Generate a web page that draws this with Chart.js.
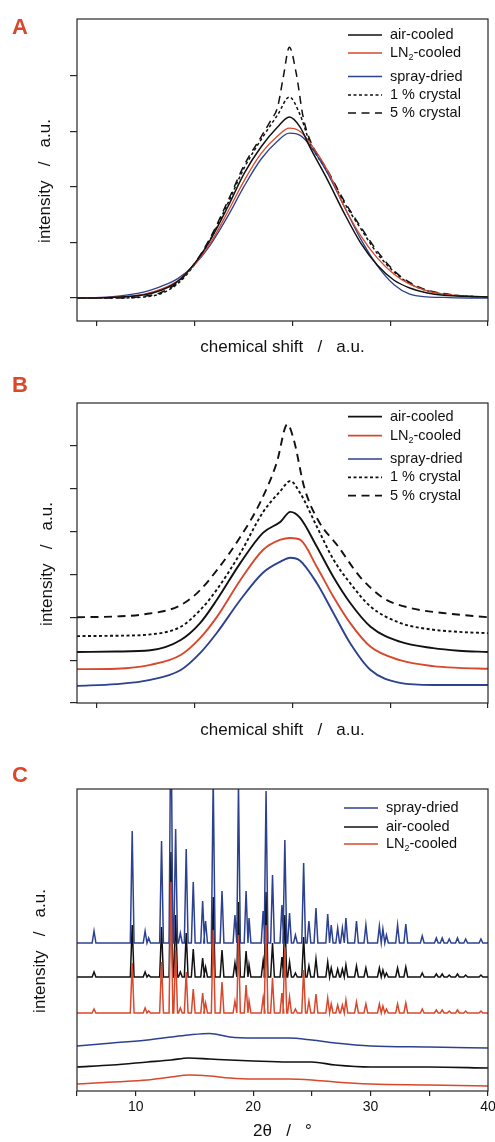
<!DOCTYPE html>
<html>
<head>
<meta charset="utf-8">
<title>Amorphous samples: NMR line shapes and powder patterns</title>
<script src="https://cdn.jsdelivr.net/npm/chart.js@4.4.1/dist/chart.umd.min.js"></script>
<style>
  html, body { margin: 0; padding: 0; background: #fff; }
  body { width: 495px; height: 1142px; position: relative; overflow: hidden; }
  canvas { position: absolute; left: 0; }
</style>
</head>
<body>
<canvas id="panelA" width="495" height="370" style="top:0"></canvas>
<canvas id="panelB" width="495" height="380" style="top:370px"></canvas>
<canvas id="panelC" width="495" height="392" style="top:750px"></canvas>
<script>
// ---- panel A: normalised line shapes (chemical shift in arbitrary units) ----
const aShift = [-0.2, 0.14, 0.49, 0.66, 0.83, 1.0, 1.16, 1.34, 1.51, 1.68, 1.85, 1.97, 2.08, 2.18, 2.36, 2.53, 2.7, 2.87, 3.04, 3.2, 3.38, 3.55, 3.8, 4.0];
const aAir   = [0, 0.01, 0.06, 0.14, 0.3, 0.62, 1.04, 1.64, 2.25, 2.72, 3.08, 3.26, 3.08, 2.72, 2.13, 1.53, 0.99, 0.59, 0.32, 0.18, 0.09, 0.05, 0.03, 0.02];
const aLN2   = [0, 0.01, 0.07, 0.16, 0.31, 0.6, 0.98, 1.55, 2.12, 2.6, 2.92, 3.06, 3.0, 2.8, 2.3, 1.65, 1.12, 0.72, 0.43, 0.25, 0.13, 0.07, 0.03, 0.02];
const aSpray = [0, 0.02, 0.11, 0.21, 0.35, 0.6, 0.95, 1.47, 2.02, 2.5, 2.83, 2.97, 2.93, 2.75, 2.25, 1.65, 1.06, 0.58, 0.24, 0.07, 0.02, 0.01, 0, 0];
const aCryst1 = [0, 0, 0.02, 0.08, 0.26, 0.6, 1.05, 1.7, 2.35, 2.85, 3.3, 3.62, 3.3, 2.8, 2.27, 1.72, 1.25, 0.8, 0.47, 0.26, 0.13, 0.07, 0.03, 0.02];
const aShift5 = [-0.2, 0.14, 0.49, 0.66, 0.83, 1.0, 1.16, 1.34, 1.51, 1.68, 1.78, 1.85, 1.91, 1.97, 2.04, 2.11, 2.18, 2.36, 2.53, 2.7, 2.87, 3.04, 3.2, 3.38, 3.55, 3.8, 4.0];
const aCryst5 = [0, 0, 0.03, 0.1, 0.28, 0.62, 1.08, 1.74, 2.4, 2.9, 3.2, 3.44, 4.0, 4.52, 4.05, 3.27, 2.85, 2.3, 1.75, 1.28, 0.84, 0.49, 0.28, 0.14, 0.08, 0.03, 0.02];
const aTicksX = [0, 1, 2, 3, 4];
const aTicksY = [0, 1, 2, 3, 4];

// ---- panel B: the same spectra, stacked ----
const bShift = [-0.2, 0.2, 0.55, 0.86, 1.06, 1.23, 1.47, 1.7, 1.88, 1.98, 2.08, 2.25, 2.42, 2.59, 2.8, 3.1, 3.44, 3.7, 4.0];
const bAir   = [1.19, 1.2, 1.23, 1.47, 1.87, 2.41, 3.27, 3.97, 4.23, 4.46, 4.32, 3.65, 2.94, 2.34, 1.78, 1.43, 1.28, 1.22, 1.19];
const bLN2   = [0.79, 0.8, 0.89, 1.12, 1.52, 2.01, 2.87, 3.57, 3.81, 3.85, 3.81, 3.18, 2.48, 1.87, 1.31, 1.0, 0.86, 0.82, 0.8];
const bSpray = [0.4, 0.44, 0.54, 0.77, 1.17, 1.64, 2.41, 3.04, 3.3, 3.39, 3.32, 2.8, 2.1, 1.4, 0.77, 0.47, 0.42, 0.42, 0.42];
const bCryst1 = [1.56, 1.57, 1.6, 1.78, 2.17, 2.65, 3.5, 4.45, 4.95, 5.18, 4.9, 4.12, 3.35, 2.8, 2.25, 1.87, 1.71, 1.66, 1.63];
const bShift5 = [-0.2, 0.2, 0.45, 0.83, 1.03, 1.23, 1.47, 1.67, 1.84, 1.95, 2.02, 2.12, 2.26, 2.47, 2.69, 2.93, 3.2, 3.54, 4.0];
const bCryst5 = [2.0, 2.02, 2.06, 2.25, 2.57, 3.1, 3.88, 4.67, 5.6, 6.5, 6.1, 5.05, 4.28, 3.65, 2.95, 2.45, 2.22, 2.1, 2.0];
const bTicksX = [0, 1, 2, 3, 4];
const bTicksY = [0, 1, 2, 3, 4, 5, 6];

// ---- panel C: powder patterns, 2theta in degrees ----
const cPeakPos = [6.45, 9.7, 10.8, 11.1, 12.2, 13.0, 13.4, 13.8, 14.3, 14.9, 15.7, 15.95, 16.6, 17.35, 18.45, 18.75, 19.4, 19.65, 20.85, 21.1, 21.65, 22.45, 22.7, 23.1, 23.6, 24.3, 24.75, 25.35, 26.35, 26.65, 27.2, 27.6, 27.9, 28.8, 29.6, 30.75, 31.05, 31.35, 32.3, 33.0, 34.4, 35.6, 36.1, 36.7, 37.4, 38.1, 39.4];
const cSprayPeaks = [12, 112, 12, 5, 102, 250, 114, 10, 94, 61, 42, 22, 165, 52, 28, 160, 52, 25, 32, 152, 68, 38, 103, 30, 8, 80, 22, 35, 29, 18, 15, 15, 25, 22, 18, 17, 14, 8, 18, 19, 7, 5, 5, 4, 5, 4, 4];
const cAirPeaks   = [5, 52, 5, 2, 50, 125, 62, 5, 44, 28, 19, 10, 80, 27, 14, 75, 26, 12, 16, 85, 34, 20, 62, 15, 4, 40, 11, 18, 15, 9, 8, 8, 12, 11, 9, 9, 7, 4, 9, 10, 4, 3, 3, 2, 3, 2, 2];
const cLN2Peaks   = [4, 50, 5, 2, 51, 131, 63, 5, 41, 24, 20, 10, 83, 31, 12, 78, 28, 12, 15, 88, 35, 20, 66, 16, 4, 43, 12, 19, 15, 9, 8, 8, 13, 11, 9, 9, 7, 4, 9, 10, 4, 3, 3, 2, 3, 2, 2];
const cSprayBase = 148;
const cAirBase = 114;
const cLN2Base = 78;
const cAmorphAngle = [5, 8, 11, 13, 14.5, 16.3, 18, 20, 23, 25, 27, 30, 35, 40];
const cSprayAmorph = [45, 48, 51, 54, 56, 57.5, 54, 53, 53, 51, 48, 45, 44, 43];
const cAirAmorph   = [24, 26, 29, 31, 33, 32, 31, 30, 29, 29, 26, 24, 24, 23];
const cLN2Amorph   = [7, 9, 11, 14, 16, 15, 13, 12, 12, 11, 9, 7, 6, 5];
const cTicksX = [5, 10, 15, 20, 25, 30, 35, 40];

const FONT = '"Liberation Sans", Arial, Helvetica, sans-serif';
const BLACK = '#111111';
const RED = '#d8482c';
const BLUE = '#2d4191';
const LETTER = '#d9482b';
const PEAK_HALF_WIDTH = 0.16;

Chart.defaults.font.family = FONT;
Chart.defaults.color = BLACK;

function xy(xs, ys) {
    return xs.map((x, i) => ({ x, y: ys[i] }));
}

// narrow reflection on a flat baseline for each listed peak
function peakTrace(base, heights) {
    const pts = [{ x: 5, y: base }];
    cPeakPos.forEach((p, i) => {
        pts.push({ x: p - PEAK_HALF_WIDTH, y: base });
        pts.push({ x: p, y: base + heights[i] });
        pts.push({ x: p + PEAK_HALF_WIDTH, y: base });
    });
    pts.push({ x: 40, y: base });
    return pts;
}

function drawLabel(ctx, text, x, y) {
    // the "2" in LN2 is set as a subscript
    const parts = text.split('\u2082');
    ctx.fillText(parts[0], x, y);
    if (parts.length < 2) return;
    let cx = x + ctx.measureText(parts[0]).width;
    const base = ctx.font;
    ctx.font = '9px ' + FONT;
    ctx.fillText('2', cx, y + 5);
    cx += ctx.measureText('2').width;
    ctx.font = base;
    ctx.fillText(parts[1], cx, y);
}

const panelDecor = {
    id: 'panelDecor',
    afterDraw(chart, args, opts) {
        const { ctx, chartArea: a } = chart;
        ctx.save();

        ctx.strokeStyle = '#262626';
        ctx.lineWidth = 1.2;
        ctx.strokeRect(a.left, a.top, a.right - a.left, a.bottom - a.top);

        ctx.fillStyle = LETTER;
        ctx.font = 'bold 22px ' + FONT;
        ctx.textAlign = 'center';
        ctx.textBaseline = 'middle';
        ctx.fillText(opts.letter, 20, opts.letterY);

        ctx.save();
        ctx.translate(opts.yTitleX, (a.top + a.bottom) / 2 + 11);
        ctx.rotate(-Math.PI / 2);
        ctx.fillStyle = BLACK;
        ctx.font = '17px ' + FONT;
        ctx.fillText('intensity   /   a.u.', 0, 0);
        ctx.restore();

        ctx.font = '14.5px ' + FONT;
        ctx.textAlign = 'left';
        for (const row of opts.legend) {
            const ds = chart.data.datasets[row.ds];
            const y = a.top + row.dy;
            ctx.strokeStyle = ds.borderColor;
            ctx.lineWidth = 1.7;
            ctx.setLineDash(ds.borderDash || []);
            ctx.beginPath();
            ctx.moveTo(a.right + opts.lineX[0], y);
            ctx.lineTo(a.right + opts.lineX[1], y);
            ctx.stroke();
            ctx.setLineDash([]);
            ctx.fillStyle = BLACK;
            drawLabel(ctx, ds.label, a.right + opts.textX, y);
        }
        ctx.restore();
    }
};

function line(label, data, color, width, dash, smooth) {
    return {
        label, data,
        borderColor: color,
        borderWidth: width,
        borderDash: dash || [],
        pointRadius: 0,
        fill: false,
        tension: 0,
        cubicInterpolationMode: smooth ? 'monotone' : 'default'
    };
}

function baseOptions(cfg) {
    return {
        responsive: false,
        animation: false,
        devicePixelRatio: 1,
        layout: { padding: { top: cfg.padTop, right: 7, left: 0, bottom: 0 } },
        plugins: {
            legend: { display: false },
            tooltip: { enabled: false },
            panelDecor: cfg.decor
        },
        scales: {
            x: {
                type: 'linear',
                min: cfg.xMin,
                max: cfg.xMax,
                afterBuildTicks: s => { s.ticks = cfg.xTicks.map(v => ({ value: v })); },
                afterFit: s => { s.height = cfg.xHeight; s.paddingLeft = 0; s.paddingRight = 0; },
                border: { display: false },
                grid: { drawOnChartArea: false, drawTicks: true, tickLength: 5, color: '#262626', lineWidth: 1.2 },
                ticks: {
                    display: cfg.xLabels,
                    autoSkip: false,
                    maxRotation: 0,
                    padding: 3,
                    font: { size: 14 },
                    color: BLACK,
                    callback: v => (v % 10 === 0 ? String(v) : '')
                },
                title: {
                    display: true,
                    text: cfg.xTitle,
                    font: { size: 17 },
                    color: BLACK,
                    padding: { top: 0, bottom: cfg.xTitlePad }
                }
            },
            y: {
                type: 'linear',
                min: cfg.yMin,
                max: cfg.yMax,
                afterBuildTicks: s => { s.ticks = cfg.yTicks.map(v => ({ value: v })); },
                afterFit: s => { s.width = 77; s.paddingTop = 0; s.paddingBottom = 0; },
                border: { display: false },
                grid: { display: cfg.yTicks.length > 0, drawOnChartArea: false, drawTicks: true, tickLength: 7, color: '#262626', lineWidth: 1.2 },
                ticks: { display: false }
            }
        }
    };
}

new Chart(document.getElementById('panelA'), {
    type: 'line',
    data: {
        datasets: [
            line('air-cooled', xy(aShift, aAir), BLACK, 1.5, null, true),
            line('LN\u2082-cooled', xy(aShift, aLN2), RED, 1.3, null, true),
            line('spray-dried', xy(aShift, aSpray), BLUE, 1.3, null, true),
            line('1 % crystal', xy(aShift, aCryst1), BLACK, 1.5, [3, 2.5], true),
            line('5 % crystal', xy(aShift5, aCryst5), BLACK, 1.5, [8, 5.5], true)
        ]
    },
    options: baseOptions({
        padTop: 19, xMin: -0.2, xMax: 4, yMin: -0.414, yMax: 5.027,
        xTicks: aTicksX, yTicks: aTicksY, xLabels: false, xHeight: 49,
        xTitle: 'chemical shift   /   a.u.', xTitlePad: 12.8,
        decor: {
            letter: 'A', letterY: 27.5, yTitleX: 45,
            lineX: [-140, -106], textX: -98,
            legend: [{ ds: 0, dy: 16 }, { ds: 1, dy: 34 }, { ds: 2, dy: 57.5 }, { ds: 3, dy: 76 }, { ds: 4, dy: 94 }]
        }
    }),
    plugins: [panelDecor]
});

new Chart(document.getElementById('panelB'), {
    type: 'line',
    data: {
        datasets: [
            line('air-cooled', xy(bShift, bAir), BLACK, 1.9, null, true),
            line('LN\u2082-cooled', xy(bShift, bLN2), RED, 1.9, null, true),
            line('spray-dried', xy(bShift, bSpray), BLUE, 1.9, null, true),
            line('1 % crystal', xy(bShift, bCryst1), BLACK, 1.9, [3, 2.5], true),
            line('5 % crystal', xy(bShift5, bCryst5), BLACK, 1.9, [8, 5.5], true)
        ]
    },
    options: baseOptions({
        padTop: 33, xMin: -0.2, xMax: 4, yMin: 0, yMax: 7,
        xTicks: bTicksX, yTicks: bTicksY, xLabels: false, xHeight: 47,
        xTitle: 'chemical shift   /   a.u.', xTitlePad: 9.8,
        decor: {
            letter: 'B', letterY: 16, yTitleX: 47,
            lineX: [-140, -106], textX: -98,
            legend: [{ ds: 0, dy: 13.7 }, { ds: 1, dy: 32.7 }, { ds: 2, dy: 56 }, { ds: 3, dy: 74.3 }, { ds: 4, dy: 92.7 }]
        }
    }),
    plugins: [panelDecor]
});

const crystSpray = line('spray-dried', peakTrace(cSprayBase, cSprayPeaks), BLUE, 1.5, null, false);
const crystAir = line('air-cooled', peakTrace(cAirBase, cAirPeaks), BLACK, 1.5, null, false);
const crystLN2 = line('LN\u2082-cooled', peakTrace(cLN2Base, cLN2Peaks), RED, 1.5, null, false);
crystSpray.order = 1;
crystAir.order = 2;
crystLN2.order = 0;

new Chart(document.getElementById('panelC'), {
    type: 'line',
    data: {
        datasets: [
            crystSpray,
            crystAir,
            crystLN2,
            line('spray-dried amorphous', xy(cAmorphAngle, cSprayAmorph), BLUE, 1.5, null, true),
            line('air-cooled amorphous', xy(cAmorphAngle, cAirAmorph), BLACK, 1.6, null, true),
            line('LN\u2082-cooled amorphous', xy(cAmorphAngle, cLN2Amorph), RED, 1.4, null, true)
        ]
    },
    options: baseOptions({
        padTop: 39, xMin: 5, xMax: 40, yMin: 0, yMax: 302,
        xTicks: cTicksX, yTicks: [], xLabels: true, xHeight: 51,
        xTitle: '2\u03b8   /   \u00b0', xTitlePad: 0,
        decor: {
            letter: 'C', letterY: 26, yTitleX: 40,
            lineX: [-144, -110], textX: -102,
            legend: [{ ds: 0, dy: 19 }, { ds: 1, dy: 38 }, { ds: 2, dy: 55 }]
        }
    }),
    plugins: [panelDecor]
});
</script>
</body>
</html>
